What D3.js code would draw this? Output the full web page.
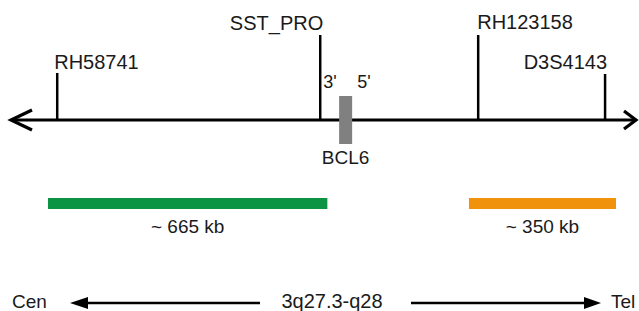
<!DOCTYPE html>
<html>
<head>
<meta charset="utf-8">
<script src="https://cdn.jsdelivr.net/npm/d3@7"></script>
<style>
  body { margin: 0; background: #fff; }
  svg text { font-family: "Liberation Sans", Arial, sans-serif; fill: #1a1a1a; }
</style>
</head>
<body>
<div id="chart"></div>
<script>
// map positions in kb
var markerNames = ["RH58741", "SST_PRO", "RH123158", "D3S4143"];
var markerPos = [110, 736, 1112, 1414];

var geneName = "BCL6";
var geneStart = 781, geneEnd = 812;
var geneEnds = ["3'", "5'"];

var regionLabels = ["~ 665 kb", "~ 350 kb"];
var regionStart = [88, 1090];
var regionEnd = [753, 1440];
var regionColors = ["#0b9444", "#f0920c"];

var bandLabel = "3q27.3-q28";
var leftEnd = "Cen", rightEnd = "Tel";

var width = 639, height = 311;

var svg = d3.select("#chart").append("svg")
    .attr("width", width)
    .attr("height", height);

var x = d3.scaleLinear()
    .domain([0, 1490])
    .range([11, 637]);

var axisY = 120;

// marker layout: tick top, label baseline, anchor
var markerLayout = {
    "RH58741":  { top: 73, base: 69, anchor: "start", dx: -3 },
    "SST_PRO":  { top: 35, base: 30, anchor: "end", dx: 3 },
    "RH123158": { top: 35, base: 29, anchor: "start", dx: -1 },
    "D3S4143":  { top: 74, base: 69, anchor: "end", dx: 2 }
};

// main line with open arrowheads
svg.append("line")
    .attr("x1", x(0) + 1).attr("x2", x(1490) - 1)
    .attr("y1", axisY).attr("y2", axisY)
    .attr("stroke", "#000").attr("stroke-width", 3);

svg.append("path")
    .attr("d", "M" + (x(0) + 21) + "," + (axisY - 10) + "L" + x(0) + "," + axisY + "L" + (x(0) + 21) + "," + (axisY + 10))
    .attr("fill", "none").attr("stroke", "#000").attr("stroke-width", 3.2);
svg.append("path")
    .attr("d", "M" + (x(1490) - 13) + "," + (axisY - 9) + "L" + (x(1490) - 1) + "," + axisY + "L" + (x(1490) - 13) + "," + (axisY + 9))
    .attr("fill", "none").attr("stroke", "#000").attr("stroke-width", 3.2);

// markers
var marker = svg.selectAll(".marker")
    .data(markerNames)
    .enter().append("g")
    .attr("class", "marker");

marker.append("line")
    .attr("x1", function(d, i) { return x(markerPos[i]); })
    .attr("x2", function(d, i) { return x(markerPos[i]); })
    .attr("y1", function(d) { return markerLayout[d].top; })
    .attr("y2", axisY)
    .attr("stroke", "#000").attr("stroke-width", 2.5);

marker.append("text")
    .attr("x", function(d, i) { return x(markerPos[i]) + markerLayout[d].dx; })
    .attr("y", function(d) { return markerLayout[d].base; })
    .attr("text-anchor", function(d) { return markerLayout[d].anchor; })
    .style("font-size", "20px")
    .text(function(d) { return d; });

// BCL6 gene box
svg.append("rect")
    .attr("x", x(geneStart))
    .attr("width", x(geneEnd) - x(geneStart))
    .attr("y", 96)
    .attr("height", 48)
    .attr("fill", "#808080");

svg.append("text")
    .attr("x", (x(geneStart) + x(geneEnd)) / 2)
    .attr("y", 164)
    .attr("text-anchor", "middle")
    .style("font-size", "19px")
    .text(geneName);

svg.selectAll(".geneEnd")
    .data(geneEnds)
    .enter().append("text")
    .attr("class", "geneEnd")
    .attr("x", function(d, i) { return i == 0 ? x(markerPos[1]) + 3 : x(geneEnd) + 5; })
    .attr("y", 88)
    .style("font-size", "18px")
    .text(function(d) { return d; });

// deletion regions
var region = svg.selectAll(".region")
    .data(regionLabels)
    .enter().append("g")
    .attr("class", "region");

region.append("rect")
    .attr("x", function(d, i) { return x(regionStart[i]); })
    .attr("width", function(d, i) { return x(regionEnd[i]) - x(regionStart[i]); })
    .attr("y", 198)
    .attr("height", 11)
    .attr("fill", function(d, i) { return regionColors[i]; });

region.append("text")
    .attr("x", function(d, i) { return (x(regionStart[i]) + x(regionEnd[i])) / 2; })
    .attr("y", 233)
    .attr("text-anchor", "middle")
    .style("font-size", "19px")
    .text(function(d) { return d; });

// orientation row
var rowY = 303;
svg.append("text").attr("x", 12).attr("y", 308).style("font-size", "19px").text(leftEnd);
svg.append("text").attr("x", 332).attr("y", 308).attr("text-anchor", "middle").style("font-size", "20px").text(bandLabel);
svg.append("text").attr("x", 611).attr("y", 308).style("font-size", "19px").text(rightEnd);

svg.append("line").attr("x1", 84).attr("x2", 260).attr("y1", rowY).attr("y2", rowY)
    .attr("stroke", "#000").attr("stroke-width", 2.5);
svg.append("path").attr("d", "M70," + rowY + "L88," + (rowY - 6) + "L88," + (rowY + 6) + "Z").attr("fill", "#000");
svg.append("line").attr("x1", 411).attr("x2", 588).attr("y1", rowY).attr("y2", rowY)
    .attr("stroke", "#000").attr("stroke-width", 2.5);
svg.append("path").attr("d", "M601," + rowY + "L584," + (rowY - 6) + "L584," + (rowY + 6) + "Z").attr("fill", "#000");
</script>
</body>
</html>
